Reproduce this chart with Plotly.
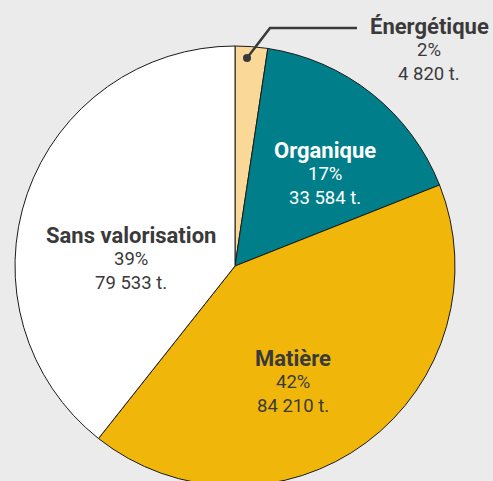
import plotly.graph_objects as go

categories = ["Énergétique", "Organique", "Matière", "Sans valorisation"]
tonnes = [4820, 33584, 84210, 79533]
percent_labels = ["2%", "17%", "42%", "39%"]
tonnage_labels = ["4 820 t.", "33 584 t.", "84 210 t.", "79 533 t."]
colors = ["#fad898", "#007f8a", "#f0b70a", "#ffffff"]
text_colors = ["#3a3a3a", "#ffffff", "#3a3a3a", "#3a3a3a"]
# label centers in pixels (x, y of first line)
label_pos = [(429, 26), (325, 150), (293, 358), (131, 235)]

W, H = 493, 530
L, T, R, B = 15, 46, 38, 44
PW, PH = W - L - R, H - T - B

def px(x):
    return (x - L) / PW

def py(y):
    return 1 - (y - T) / PH

fig = go.Figure(go.Pie(
    labels=categories,
    values=tonnes,
    sort=False,
    direction="clockwise",
    rotation=0,
    marker=dict(colors=colors, line=dict(color="#1a1a1a", width=1)),
    textinfo="none",
    hoverinfo="label+value+percent",
    showlegend=False,
))

annotations = []
for i, cat in enumerate(categories):
    x0, y0 = label_pos[i]
    lines = [(cat, 22, True), (percent_labels[i], 18.5, False), (tonnage_labels[i], 18.5, False)]
    for j, (txt, size, bold) in enumerate(lines):
        yy = y0 + j * 24
        annotations.append(dict(
            x=px(x0), y=py(yy), xref="paper", yref="paper",
            text=f"<b>{txt}</b>" if bold else txt,
            showarrow=False, xanchor="center", yanchor="middle",
            font=dict(family="Roboto", size=size, color=text_colors[i]),
        ))

shapes = [
    dict(type="path", xref="paper", yref="paper",
         path=f"M {px(247)} {py(58)} L {px(270)} {py(28)} L {px(357)} {py(28)}",
         line=dict(color="#3a3a3a", width=2.5)),
    dict(type="circle", xref="paper", yref="paper",
         x0=px(243), x1=px(251), y0=py(54), y1=py(62),
         fillcolor="#3a3a3a", line=dict(color="#3a3a3a", width=0)),
]

fig.update_layout(
    width=W, height=H,
    margin=dict(l=L, r=R, t=T, b=B, pad=0),
    paper_bgcolor="#ebebeb",
    plot_bgcolor="#ebebeb",
    annotations=annotations,
    shapes=shapes,
)

fig.write_html("out.html", config={"displayModeBar": False},
               post_script="document.body.style.margin='0';document.body.style.overflow='hidden';document.documentElement.style.overflow='hidden';")
